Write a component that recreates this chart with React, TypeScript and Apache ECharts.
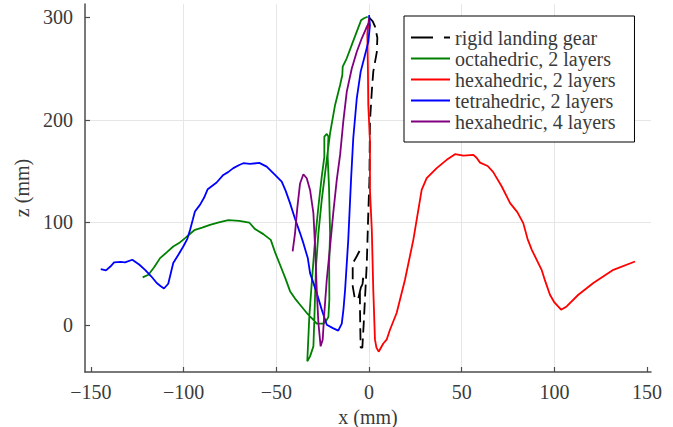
import React, { useEffect, useRef } from 'react';
import * as echarts from 'echarts';

const seriesNames = [
  'rigid landing gear',
  'octahedric, 2 layers',
  'hexahedric, 2 layers',
  'tetrahedric, 2 layers',
  'hexahedric, 4 layers',
];
const seriesColors = ['#000000', '#008000', '#ff0000', '#0000ff', '#800080'];

const xTicks = [-150, -100, -50, 0, 50, 100, 150];
const zTicks = [0, 100, 200, 300];

const rigidData = [
  [0, 300], [2, 296], [3.2, 291], [4.5, 280], [4.2, 266], [2.3, 247], [1.5, 228], [0.5, 198],
  [0.2, 140], [-0.4, 109], [-1.2, 60], [-2.2, 25], [-2.9, 0], [-3.6, -22], [-4.5, -22],
  [-4.7, -5], [-4.9, 20], [-4.9, 34], [-3.5, 40], [-3.1, 46], [-4.2, 38], [-5.8, 26],
  [-7.6, 25], [-8.8, 38], [-8.8, 60], [-6.6, 67], [-4.9, 73], [-4.9, 77],
];

const octaData = [
  [-122.1, 46.4], [-119, 49], [-116, 56], [-112.7, 65.2], [-109, 71], [-105.6, 76.5],
  [-102, 80.5], [-99.2, 84.7], [-96.5, 89], [-93.9, 92.8], [-90, 95], [-85.8, 97.7],
  [-81, 100], [-75.9, 102.2], [-70, 101.5], [-64.6, 99.9], [-61.5, 93.5], [-57, 88.6],
  [-53, 83], [-50.5, 70], [-48, 58.7], [-45, 45], [-42.6, 33], [-40, 26], [-37.2, 19.8],
  [-33, 10.5], [-30, 5], [-28.2, 1.3], [-24.6, 1.3], [-22.8, 5], [-21.9, 8], [-21.4, 24.6],
  [-21.5, 60], [-21.0, 89.6], [-21.6, 135], [-22.3, 164], [-21.9, 183.6], [-22.8, 186.3],
  [-24.1, 183.6], [-24.1, 164], [-25.5, 144.7], [-27.3, 115.5], [-29.1, 83], [-30.9, 40.9],
  [-32.2, 8.4], [-33.3, -35.4], [-31.8, -30.6], [-30.0, -20.8], [-29.5, 5.2], [-28.6, 57],
  [-27.3, 89.6], [-25.5, 122], [-23.7, 148], [-21.0, 187], [-18.3, 214.5], [-15.6, 234],
  [-14.4, 243.7], [-14.2, 251.8], [-12.0, 260], [-9.3, 273], [-6.6, 286], [-4.3, 297],
  [-2.7, 299], [-0.7, 300.5],
];

const hexa2Data = [
  [0, 299], [-0.9, 284], [-0.6, 250], [-0.4, 214.5], [0.5, 180], [0.5, 131.7], [1.5, 92.8],
  [2.3, 34.4], [3.2, -14], [4, -22], [5.2, -26], [7.7, -18], [9.5, -14.3], [11.3, -4.6],
  [14.9, 11.7], [19.4, 44.1], [23.9, 83], [28.4, 131.7], [31.1, 143.1], [36.5, 152.9],
  [41.9, 161], [46.4, 166.5], [50.9, 165.1], [56.3, 165.8], [58, 163], [59.9, 158.3],
  [64, 155], [67.0, 149], [71.6, 135], [76.1, 118.8], [80, 110], [83.2, 99.3], [85.5, 84],
  [87.8, 73.3], [93.1, 53.8], [95, 43], [97.6, 29.5], [100, 22], [103.6, 14.9], [106.6, 18.1],
  [112.9, 29.5], [121.0, 40.9], [131.8, 53.8], [143.5, 61.9],
];

const tetraData = [
  [-144.7, 54.5], [-141.9, 53.2], [-139.5, 57], [-137.5, 61], [-134, 61.5], [-131.6, 61],
  [-127.7, 63.6], [-124, 59], [-120.8, 53.8], [-117.5, 47.5], [-114.5, 40.9], [-112.5, 38],
  [-110.6, 35.6], [-108.3, 40.2], [-107, 50], [-105.6, 60.4], [-103, 68], [-100.2, 76.5],
  [-98, 84], [-96.5, 92.8], [-95, 103], [-93.9, 110.6], [-91.2, 117.1], [-89, 124],
  [-87, 132.4], [-82.2, 138.9], [-78.6, 146.3], [-76, 149], [-73.2, 152.9], [-70, 156],
  [-67.8, 157.7], [-64.2, 157], [-59.2, 158], [-55.2, 154.4], [-50.7, 146.3], [-47.1, 139.8],
  [-45, 131], [-42.6, 118.8], [-40, 104], [-37.2, 89.6], [-35.4, 79.8], [-33, 65],
  [-31.8, 50.6], [-28.2, 31.2], [-25.5, 15], [-22.8, 0.3], [-19.5, -3], [-16.6, -5.5],
  [-14.7, 1.3], [-13.8, 15], [-12.9, 34.4], [-11.2, 83], [-10.2, 122], [-9.7, 141.5],
  [-8.5, 182], [-6.6, 221], [-4.5, 247], [-2.2, 263], [-0.4, 276], [0.5, 292], [0, 302],
];

const hexa4Data = [
  [-41.2, 71.7], [-39.9, 89.6], [-38.7, 114], [-37.2, 138], [-35.4, 147], [-33.6, 143],
  [-31.8, 131.7], [-30.0, 109], [-29.1, 76.5], [-28.2, 34.4], [-27.3, 2], [-26.1, -20.8],
  [-25.0, -14.3], [-24.1, 11.7], [-22.8, 44.1], [-21.0, 76.5], [-19.3, 109], [-17.4, 141.5],
  [-15.6, 165.8], [-13.9, 198], [-12.0, 227.5], [-9.3, 250], [-6.6, 266.4], [-3.9, 279.5],
  [-1.6, 289], [0.2, 295.6],
];

const allData = [rigidData, octaData, hexa2Data, tetraData, hexa4Data];

const FONT = 'Liberation Serif';
const AXIS_COLOR = '#4d4d4d';
const TEXT_COLOR = '#3a3a3a';

function fmt(v: number) {
  const r = Math.round(v);
  return r < 0 ? '\u2212' + Math.abs(r) : String(r);
}

export default function App() {
  const ref = useRef<HTMLDivElement>(null);
  useEffect(() => {
    const chart = echarts.init(ref.current!, null, { renderer: 'svg' });
    chart.setOption({
      animation: false,
      backgroundColor: '#ffffff',
      grid: { left: 85, right: 22, top: 4, bottom: 55, containLabel: false, outerBoundsMode: 'none' },
      xAxis: {
        type: 'value',
        min: -153.2,
        max: 152.1,
        name: 'x (mm)',
        nameLocation: 'middle',
        nameGap: 33,
        nameTextStyle: { fontFamily: FONT, fontSize: 20, color: TEXT_COLOR },
        axisLine: { show: true, onZero: false, lineStyle: { color: AXIS_COLOR, width: 1.5 } },
        axisTick: { show: true, inside: true, length: 5, customValues: xTicks, lineStyle: { color: AXIS_COLOR, width: 1.2 } },
        axisLabel: {
          customValues: xTicks,
          margin: 10,
          fontFamily: FONT,
          fontSize: 20,
          color: TEXT_COLOR,
          formatter: (v: number) => fmt(v),
        },
        splitLine: { show: true, showMinLine: false, showMaxLine: false, lineStyle: { color: '#e6e6e6', width: 1 } },
      },
      yAxis: {
        type: 'value',
        min: -45.8,
        max: 312.9,
        name: 'z (mm)',
        nameLocation: 'middle',
        nameGap: 47,
        nameTextStyle: { fontFamily: FONT, fontSize: 20, color: TEXT_COLOR },
        axisLine: { show: true, onZero: false, lineStyle: { color: AXIS_COLOR, width: 1.5 } },
        axisTick: { show: true, inside: true, length: 5, customValues: zTicks, lineStyle: { color: AXIS_COLOR, width: 1.2 } },
        axisLabel: {
          customValues: zTicks,
          margin: 12,
          fontFamily: FONT,
          fontSize: 20,
          color: TEXT_COLOR,
          formatter: (v: number) => fmt(v),
        },
        splitLine: { show: true, showMinLine: false, showMaxLine: false, lineStyle: { color: '#e6e6e6', width: 1 } },
      },
      legend: {
        show: true,
        orient: 'vertical',
        left: 404,
        top: 16,
        padding: [11, 19, 10, 6],
        itemGap: 0,
        itemWidth: 39,
        itemHeight: 14,
        borderColor: '#000000',
        borderWidth: 1,
        backgroundColor: '#ffffff',
        itemStyle: { opacity: 0 },
        lineStyle: { opacity: 1 },
        textStyle: { fontFamily: FONT, fontSize: 20, color: TEXT_COLOR, lineHeight: 21 },
        data: seriesNames.map((n, i) =>
          i === 0 ? { name: n, lineStyle: { type: [22, 11], width: 2, opacity: 1 } } : { name: n }
        ),
      },
      series: seriesNames.map((n, i) => ({
        name: n,
        type: 'line',
        data: allData[i],
        symbol: 'none',
        showSymbol: false,
        smooth: false,
        clip: true,
        lineStyle: { color: seriesColors[i], width: 1.8, type: i === 0 ? [12, 6] : 'solid' },
        itemStyle: { color: seriesColors[i] },
        z: 2 + i,
      })),
    });
    return () => chart.dispose();
  }, []);
  return <div ref={ref} style={{ position: 'absolute', left: 0, top: 0, width: 673, height: 427 }} />;
}
